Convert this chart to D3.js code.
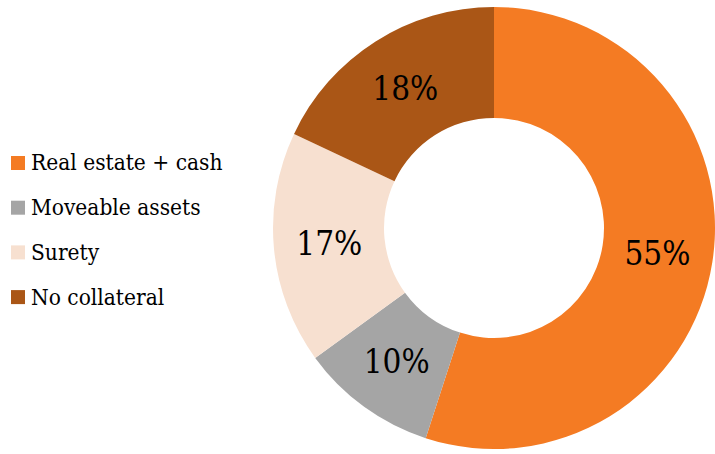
<!DOCTYPE html>
<html>
<head>
<meta charset="utf-8">
<script src="https://cdn.jsdelivr.net/npm/d3@7"></script>
<style>
  body { margin: 0; background: #fff; }
  svg { display: block; }
  text { font-family: "DejaVu Serif Condensed", "DejaVu Serif", serif; font-stretch: condensed; }
</style>
</head>
<body>
<svg id="chart" width="715" height="454"></svg>
<script>
var categories = ["Real estate + cash", "Moveable assets", "Surety", "No collateral"];
var shares = [55, 10, 17, 18];
var colours = ["#f47b23", "#a5a5a5", "#f7e0d0", "#aa5616"];

document.addEventListener('DOMContentLoaded', main);

function main() {
    var svg = d3.select("#chart");

    var cx = 494, cy = 228;
    var outer = 221, inner = 110;

    var data = categories.map(function (c, i) {
        return { name: c, value: shares[i], colour: colours[i] };
    });

    var pie = d3.pie()
        .sort(null)
        .value(function (d) { return d.value; });

    var arc = d3.arc()
        .innerRadius(inner)
        .outerRadius(outer);

    var g = svg.append("g")
        .attr("transform", "translate(" + cx + "," + cy + ")");

    var slices = g.selectAll(".slice")
        .data(pie(data))
        .enter().append("g")
        .attr("class", "slice");

    slices.append("path")
        .attr("d", arc)
        .attr("fill", function (d) { return d.data.colour; });

    slices.append("text")
        .attr("transform", function (d) {
            return "translate(" + arc.centroid(d) + ")";
        })
        .attr("text-anchor", "middle")
        .attr("dy", "0.35em")
        .attr("font-size", 33)
        .attr("fill", "#000")
        .text(function (d) { return d.data.value + "%"; });

    // legend
    var legend = svg.append("g")
        .attr("transform", "translate(11,163)");

    var item = legend.selectAll(".item")
        .data(data)
        .enter().append("g")
        .attr("class", "item")
        .attr("transform", function (d, i) { return "translate(0," + (i * 44.7) + ")"; });

    item.append("rect")
        .attr("x", 0)
        .attr("y", -7)
        .attr("width", 14)
        .attr("height", 14)
        .attr("fill", function (d) { return d.colour; });

    item.append("text")
        .attr("x", 20)
        .attr("dy", "0.33em")
        .attr("font-size", 22.5)
        .attr("fill", "#000")
        .text(function (d) { return d.name; });
}
</script>
</body>
</html>
